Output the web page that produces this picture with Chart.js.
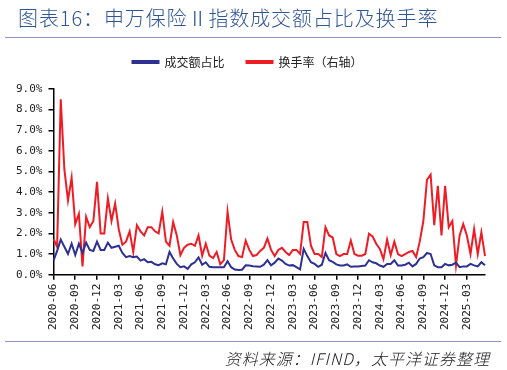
<!DOCTYPE html>
<html>
<head>
<meta charset="utf-8">
<script src="https://cdn.jsdelivr.net/npm/chart.js@4.4.0/dist/chart.umd.min.js"></script>
<style>
  html, body { margin: 0; padding: 0; background: #fff; }
  #wrap { position: relative; width: 507px; height: 370px; overflow: hidden; }
  #chart { position: absolute; left: 0; top: 0; }
  .title {
    position: absolute; left: 18px; top: 3px;
    font-family: "Noto Sans CJK SC", sans-serif; font-size: 20px; font-weight: 300;
    letter-spacing: 0.9px; color: #2f5597; white-space: nowrap;
  }
  .rule { position: absolute; left: 5px; width: 496px; height: 0; border-top: 1.5px solid #8e92c8; }
  .source {
    position: absolute; right: 17px; top: 346px;
    font-family: "Noto Sans CJK SC", sans-serif; font-size: 16px; font-style: italic; font-weight: 300;
    letter-spacing: 1px; color: #222; white-space: nowrap;
  }
</style>
</head>
<body>
<div id="wrap">
  <canvas id="chart" width="507" height="370"></canvas>
  <div class="title">图表16：申万保险Ⅱ指数成交额占比及换手率</div>
  <div class="rule" style="top:37px"></div>
  <div class="rule" style="top:341px"></div>
  <div class="source">资料来源：IFIND，太平洋证券整理</div>
</div>
<script>
// half-month points, 2020-06 .. 2025-05
const startYear = 2020, startMonth = 6, monthCount = 60;
const quarterTicks = ['2020-06', '2020-09', '2020-12', '2021-03', '2021-06', '2021-09', '2021-12',
    '2022-03', '2022-06', '2022-09', '2022-12', '2023-03', '2023-06', '2023-09', '2023-12',
    '2024-03', '2024-06', '2024-09', '2024-12', '2025-03'];

// 成交额占比 (%)
const amountShare = [
    0.68, 1.15, 1.70, 1.35, 1.00, 1.50, 0.95, 1.50, 1.05, 1.55,
    1.20, 1.15, 1.60, 1.20, 1.20, 1.55, 1.30, 1.35, 1.40, 1.05,
    0.85, 0.90, 0.85, 0.88, 0.68, 0.75, 0.60, 0.62, 0.50, 0.46,
    0.55, 0.50, 1.10, 0.78, 0.52, 0.36, 0.40, 0.28, 0.50, 0.60,
    0.84, 0.48, 0.60, 0.38, 0.36, 0.36, 0.36, 0.36, 0.65, 0.36,
    0.25, 0.22, 0.24, 0.45, 0.44, 0.41, 0.40, 0.38, 0.48, 0.70,
    0.45, 0.58, 0.78, 0.68, 0.52, 0.44, 0.46, 0.36, 0.25, 1.25,
    0.90, 0.60, 0.52, 0.38, 0.48, 1.05, 0.70, 0.62, 0.50, 0.44,
    0.44, 0.50, 0.38, 0.40, 0.40, 0.42, 0.44, 0.70, 0.60, 0.55,
    0.44, 0.38, 0.52, 0.52, 0.70, 0.44, 0.44, 0.48, 0.58, 0.40,
    0.52, 0.78, 0.85, 1.05, 1.00, 0.45, 0.36, 0.36, 0.52, 0.45,
    0.48, 0.58, 0.36, 0.40, 0.40, 0.52, 0.45, 0.40, 0.60, 0.45
];

// 换手率 (%), right axis
const turnover = [
    1.73, 1.35, 8.50, 5.10, 3.60, 4.70, 2.45, 2.95, 0.40, 2.80,
    2.30, 2.60, 4.50, 2.00, 2.00, 3.70, 2.60, 3.45, 2.20, 1.45,
    1.60, 2.10, 1.10, 2.40, 2.10, 1.90, 2.30, 2.30, 2.10, 2.00,
    3.05, 1.60, 1.40, 2.55, 1.90, 0.95, 1.30, 1.45, 1.50, 1.40,
    1.90, 0.92, 1.50, 0.92, 0.80, 1.10, 0.50, 0.70, 3.05, 1.70,
    1.20, 0.90, 0.85, 1.65, 1.20, 0.90, 0.95, 1.15, 1.30, 1.75,
    1.20, 0.90, 1.20, 1.30, 1.10, 0.95, 1.20, 1.20, 1.00, 2.55,
    2.55, 1.40, 1.00, 1.00, 0.85, 2.30, 1.90, 1.80, 1.00, 0.90,
    1.00, 1.00, 1.65, 1.00, 0.92, 0.92, 1.00, 1.98, 1.85, 1.50,
    1.25, 0.75, 1.70, 0.95, 1.60, 1.00, 0.90, 1.00, 1.10, 1.15,
    0.85, 1.60, 2.60, 4.60, 4.85, 2.40, 4.30, 1.90, 4.30, 2.30,
    2.60, 0.45, 1.90, 2.45, 1.90, 1.00, 2.20, 1.00, 2.05, 0.90
];

const periods = [];
for (let m = 0; m < monthCount; m++) {
    const y = startYear + Math.floor((startMonth - 1 + m) / 12);
    const mo = (startMonth - 1 + m) % 12 + 1;
    const ym = y + '-' + String(mo).padStart(2, '0');
    periods.push(ym + ' 上半月', ym + ' 下半月');
}

const tickFont = { family: 'DejaVu Sans Mono', size: 11 };

// extra room under the legend
const legendGap = {
    id: 'legendGap',
    beforeInit(chart) {
        const fit = chart.legend.fit;
        chart.legend.fit = function () {
            fit.bind(chart.legend)();
            this.height += 11;
        };
    }
};

new Chart(document.getElementById('chart'), {
    type: 'line',
    data: {
        labels: periods,
        datasets: [{
            label: '成交额占比',
            data: amountShare,
            borderColor: '#2e3192',
            backgroundColor: '#2e3192',
            borderWidth: 2,
            pointRadius: 0,
            tension: 0,
            yAxisID: 'y'
        }, {
            label: '换手率（右轴）',
            data: turnover,
            borderColor: '#ee1c25',
            backgroundColor: '#ee1c25',
            borderWidth: 2,
            pointRadius: 0,
            tension: 0,
            yAxisID: 'y1'
        }]
    },
    plugins: [legendGap],
    options: {
        responsive: false,
        animation: false,
        layout: { padding: { top: 34, left: 10, right: 22, bottom: 36 } },
        plugins: {
            tooltip: { enabled: false },
            legend: {
                position: 'top',
                labels: {
                    boxWidth: 26,
                    boxHeight: 2,
                    padding: 22,
                    color: '#222',
                    font: { family: 'Noto Sans CJK SC', size: 12 }
                }
            }
        },
        scales: {
            x: {
                type: 'category',
                offset: false,
                grid: { drawOnChartArea: false, drawTicks: true, tickLength: 5, color: '#000', lineWidth: 1.5 },
                border: { color: '#000', width: 1.5 },
                ticks: {
                    autoSkip: false,
                    maxRotation: 90,
                    minRotation: 90,
                    padding: 4,
                    color: '#222',
                    font: tickFont,
                    callback: function (value, index) {
                        const ym = periods[index].slice(0, 7);
                        if (index % 2 === 0 && quarterTicks.includes(ym)) return ym;
                        return null;
                    }
                }
            },
            y: {
                min: 0,
                max: 9,
                grid: { drawOnChartArea: false, drawTicks: true, tickLength: 5, color: '#000', lineWidth: 1.5 },
                border: { color: '#000', width: 1.5 },
                ticks: {
                    stepSize: 1,
                    padding: 6,
                    color: '#222',
                    font: tickFont,
                    callback: v => v.toFixed(1) + '%'
                }
            },
            y1: {
                display: false,
                position: 'right',
                min: 0,
                max: 9
            }
        }
    }
});
</script>
</body>
</html>
